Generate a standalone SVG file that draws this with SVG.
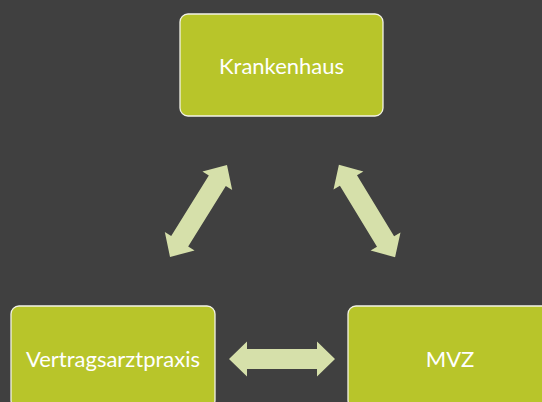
<svg xmlns="http://www.w3.org/2000/svg" width="542" height="402" viewBox="0 0 542 402">
<defs>
<style>
.box{fill:#B8C52A;stroke:#F2F2E6;stroke-width:1.3}
.lbl{font-family:Lato,"Open Sans","Liberation Sans",sans-serif;font-size:22px;fill:#FFFFFF;text-anchor:middle;dominant-baseline:central}
.arr{fill:#D6E0AA}
</style>
<path id="dbl" d="M-53,0 L-35,-17.5 L-35,-10 L35,-10 L35,-17.5 L53,0 L35,17.5 L35,10 L-35,10 L-35,17.5 Z"/>
</defs>
<rect width="542" height="402" fill="#404040"/>
<g id="connectors" class="arr">
<use href="#dbl" transform="translate(198.5,211) rotate(-58.2) scale(1.02,1)"/>
<use href="#dbl" transform="translate(367,211) rotate(58.7) scale(1.02,1)"/>
<use href="#dbl" transform="translate(282,359)"/>
</g>
<g id="krankenhaus">
<rect class="box" x="180" y="14" width="203" height="102" rx="8"/>
<text class="lbl" x="281.5" y="65">Krankenhaus</text>
</g>
<g id="vertragsarztpraxis">
<rect class="box" x="11" y="306" width="204" height="102" rx="8"/>
<text class="lbl" x="113" y="358">Vertragsarztpraxis</text>
</g>
<g id="mvz">
<rect class="box" x="348" y="306" width="204" height="102" rx="8"/>
<text class="lbl" x="450" y="358">MVZ</text>
</g>
</svg>
